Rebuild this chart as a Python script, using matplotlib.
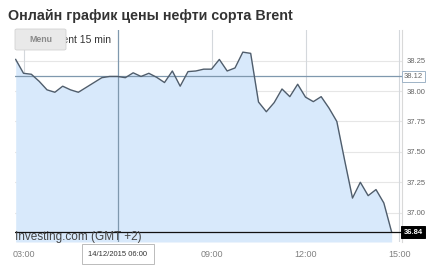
import matplotlib
matplotlib.use("Agg")
import matplotlib.pyplot as plt
import matplotlib.transforms as mtransforms
from matplotlib.patches import FancyBboxPatch
import numpy as np

# ---- data ----
start_hour = 2.75          # first bar 02:45, 15-minute bars
step_hour = 0.25
prices = [38.26, 38.146, 38.138, 38.08, 38.01, 37.99, 38.04, 38.01, 37.99, 38.03,
          38.07, 38.11, 38.12, 38.12, 38.11, 38.15, 38.12, 38.146, 38.113, 38.07,
          38.165, 38.04, 38.16, 38.165, 38.18, 38.18, 38.26, 38.165, 38.19, 38.32,
          38.31, 37.91, 37.83, 37.905, 38.017, 37.954, 38.056, 37.95, 37.913, 37.954,
          37.86, 37.75, 37.43, 37.12, 37.25, 37.14, 37.19, 37.08, 36.84]
xtick_hours = [3, 6, 9, 12, 15]
xtick_labels = ["03:00", "06:00", "09:00", "12:00", "15:00"]
ytick_values = [37.00, 37.25, 37.50, 37.75, 38.00, 38.25]
ytick_labels = ["37.00", "37.25", "37.50", "37.75", "38.00", "38.25"]
prev_close = 38.12
last_price = 36.84
cursor_hour = 6
cursor_label = "14/12/2015 06:00"
title = "Онлайн график цены нефти сорта Brent"
chart_name = "Brent 15 min"
source = "Investing.com (GMT +2)"

hours = [start_hour + step_hour * i for i in range(len(prices))]

W, H = 428, 265
fig = plt.figure(figsize=(W / 100, H / 100), dpi=100)
fig.patch.set_facecolor("white")
plt.rcParams['font.family'] = ['Liberation Sans', 'DejaVu Sans']

L, R, T, B = 15, 402, 30, 242
ax = fig.add_axes([L / W, 1 - B / H, (R - L) / W, (B - T) / H])
ax.set_xlim(2.728, 15.08)
ax.set_ylim(36.759, 38.502)
ax.set_facecolor("white")
for s in ["left", "top", "bottom"]:
    ax.spines[s].set_visible(False)
ax.spines["right"].set_color("#d9d9d9")
ax.spines["right"].set_linewidth(0.8)

# grid
for yv in ytick_values:
    ax.axhline(yv, color="#e6e6e6", lw=0.8, zorder=0)
for xv in xtick_hours:
    if xv != cursor_hour:
        ax.axvline(xv, color="#d4d8dc", lw=0.8, zorder=0)

ax.fill_between(hours, prices, 36.759, color="#d8e9fb", zorder=1, lw=0)
ax.plot(hours, prices, color="#4f5d6c", lw=1.0, zorder=3)

ax.axhline(prev_close, color="#7f98ae", lw=0.9, zorder=2)
ax.axhline(last_price, color="#111111", lw=0.9, zorder=4)
ax.axvline(cursor_hour, color="#7f98ae", lw=0.9, zorder=2)

# ticks
ax.yaxis.tick_right()
ax.set_yticks(ytick_values)
ax.set_yticklabels(ytick_labels, fontsize=5.5, color="#666666")
ax.tick_params(axis="y", length=0, pad=3)
ax.set_xticks(xtick_hours)
ax.set_xticklabels(xtick_labels, fontsize=6.5, color="#808080")
ax.tick_params(axis="x", length=0, pad=6)

trans = mtransforms.blended_transform_factory(ax.transAxes, ax.transData)
ax.text(1.004, prev_close, "38.12", transform=trans, fontsize=5.5, color="#666666",
        va="center", ha="left", zorder=6,
        bbox=dict(boxstyle="square,pad=0.25", fc="white", ec="#9fb3c6", lw=0.7))
ax.text(1.004, last_price, "%.2f" % last_price, transform=trans, fontsize=5.5,
        color="white", fontweight="bold", va="center", ha="left", zorder=6,
        bbox=dict(boxstyle="square,pad=0.3", fc="black", ec="black", lw=0.7))

# cursor date label
ax.text(cursor_hour, -0.058, cursor_label,
        transform=mtransforms.blended_transform_factory(ax.transData, ax.transAxes),
        fontsize=5.5, color="#333333", ha="center", va="center", zorder=10, clip_on=False,
        bbox=dict(boxstyle="square,pad=0.85", fc="white", ec="#bbbbbb", lw=0.7))

def fx(x):
    return x / W

def fy(y):
    return 1 - y / H

fig.text(fx(8), fy(16), title, fontsize=10.3, fontweight="bold", color="#333333",
         ha="left", va="center")
fig.text(fx(52), fy(40), chart_name, fontsize=7.5, color="#333333", ha="left", va="center")
menu = FancyBboxPatch((fx(15), fy(50)), fx(51), 21 / H,
                      boxstyle="round,pad=0,rounding_size=0.005",
                      transform=fig.transFigure, fc="#e9e9e9", ec="#d2d2d2", lw=0.6,
                      zorder=19)
fig.add_artist(menu)
fig.text(fx(40.5), fy(39.5), "Menu", fontsize=6.3, color="#8a8a8a", ha="center", va="center",
         zorder=20, fontweight="bold")
fig.text(fx(15), fy(237), source, fontsize=8.5, color="#444444", ha="left", va="center", zorder=20)

fig.savefig("out.png", dpi=100)
